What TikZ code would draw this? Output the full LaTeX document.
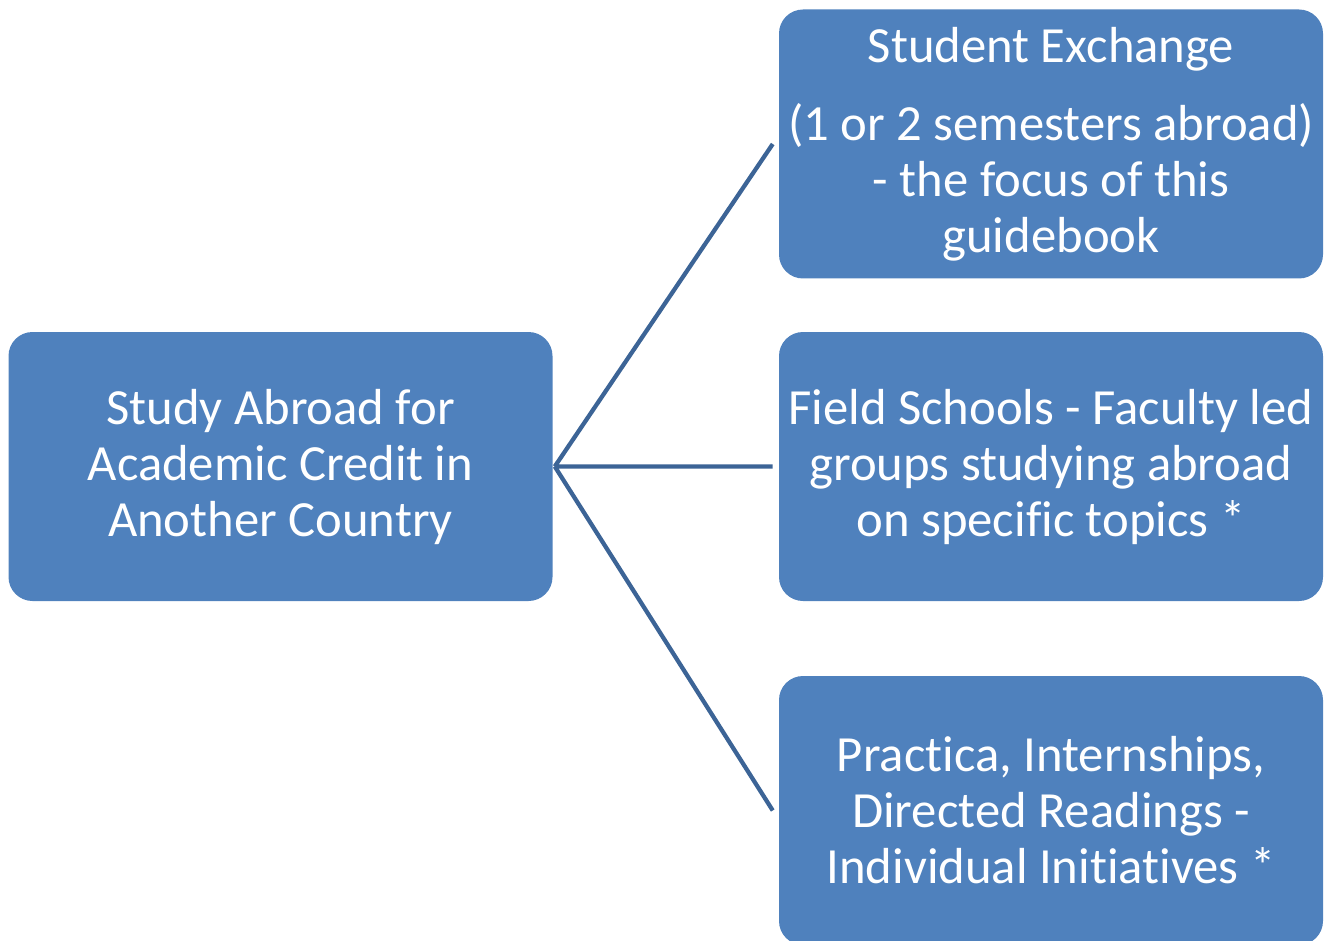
\documentclass[tikz,border=0pt]{standalone}
\usepackage{fontspec}
\setmainfont[Ligatures=NoCommon]{Carlito}
\usetikzlibrary{positioning}
\definecolor{boxblue}{HTML}{4F81BD}
\definecolor{linkblue}{HTML}{3C6496}
\begin{document}
\begin{tikzpicture}[x=0.75pt, y=-0.75pt,
    topic/.style={fill=boxblue, rounded corners=18pt, inner sep=0pt,
        minimum width=408pt, minimum height=201.75pt, align=center,
        text=white, font=\fontsize{38}{42}\selectfont},
    link/.style={draw=linkblue, line width=3.2pt}]
    \useasboundingbox (0, 0) rectangle (1331, 941);
    % main topic and its three kinds
    \node[topic] (study) at (280.5, 466.5) {Study Abroad for\\Academic Credit in\\Another Country};
    \node[topic] (exchange) at (1051, 144) {Student Exchange\\[16.5pt](1 or 2 semesters abroad)\\- the focus of this\\guidebook};
    \node[topic] (field) at (1051, 466.5) {Field Schools - Faculty led\\groups studying abroad\\on specific topics *};
    \node[topic] (practica) at (1051, 810.5) {Practica, Internships,\\Directed Readings -\\Individual Initiatives *};
    \coordinate (hub) at ([xshift=1.5pt]study.east);
    \draw[link]
    (hub) -- ([xshift=-4.5pt]exchange.west)
    (hub) -- ([xshift=-4.5pt]field.west)
    (hub) -- ([xshift=-4.5pt]practica.west);
\end{tikzpicture}
\end{document}
